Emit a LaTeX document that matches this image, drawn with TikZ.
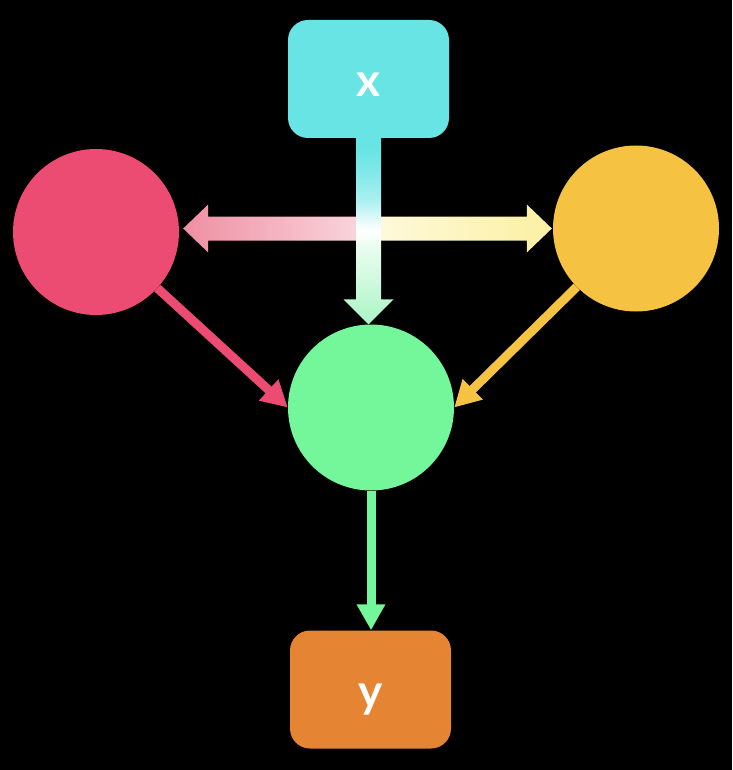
\documentclass[tikz,border=0pt]{standalone}
\usepackage{fontspec}
\setmainfont{Lato}
\usetikzlibrary{arrows.meta,calc}
\definecolor{cx}{HTML}{68E4E4}
\definecolor{cy}{HTML}{E58533}
\definecolor{cr}{HTML}{EC4B72}
\definecolor{cyl}{HTML}{F5C242}
\definecolor{cg}{HTML}{74F79A}
\definecolor{chp}{HTML}{EF8FA3}
\definecolor{chy}{HTML}{FCF0A2}
\definecolor{cvg}{HTML}{ABF5C4}
\pgfdeclareverticalshading{vgrad}{100bp}{color(0bp)=(cvg); color(25bp)=(cvg); color(46bp)=(cvg!25!white); color(50bp)=(white); color(52.5bp)=(cx!15!white); color(58bp)=(cx!55!white); color(66bp)=(cx!85!white); color(72bp)=(cx); color(100bp)=(cx)}
\begin{document}
\begin{tikzpicture}[x=1pt,y=-1pt,
  box/.style={rounded corners=20pt, minimum width=161pt, minimum height=118pt, inner sep=0pt,
    text=white, font=\fontsize{46}{46}\selectfont\bfseries, text height=36pt, text depth=0pt},
  circ/.style={circle, minimum size=166pt, inner sep=0pt},
  conn/.style={line width=9pt, -{Triangle[length=26pt,width=27pt]}}]
\fill[black] (0,0) rectangle (732,770);
\useasboundingbox (0,0) rectangle (732,770);
\node[box, fill=cx] (x) at (368.5,79) {x};
\node[box, fill=cy] (y) at (370.5,689.5) {y};
\node[circ, fill=cr] (r) at (96,232) {};
\node[circ, fill=cyl] (ye) at (636,228.5) {};
\node[circ, fill=cg] (g) at (371,407.5) {};
% thin connectors
\draw[conn, cr] (r) -- (g.west);
\draw[conn, cyl] (ye) -- (g.east);
\draw[conn, cg] (g.south) -- (g.south |- y.north);
% horizontal gradient double arrow (two halves)
\coordinate (hl) at ($(r.east |- ye.west)+(4,0)$);
\coordinate (hr) at ($(ye.west)+(-1,0)$);
\coordinate (hm) at (x.south |- hr);
\shade[left color=chp, right color=chp!35!white]
  (hl) -- ($(hl)+(25,-24)$) -- ($(hl)+(25,-12)$) -- ($(hm)+(0,-12)$)
  -- ($(hm)+(0,12)$) -- ($(hl)+(25,12)$) -- ($(hl)+(25,24)$) -- cycle;
\shade[left color=chy!35!white, right color=chy]
  ($(hm)+(0,-12)$) -- ($(hr)+(-25,-12)$) -- ($(hr)+(-25,-24)$)
  -- (hr) -- ($(hr)+(-25,24)$) -- ($(hr)+(-25,12)$) -- ($(hm)+(0,12)$) -- cycle;
% vertical gradient arrow
\coordinate (vt) at (x.south |- g.north);
\shade[shading=vgrad]
  ($(x.south)+(-12.5,-1)$) -- ($(vt)+(-12.5,-25)$) -- ($(vt)+(-25,-25)$) -- (vt)
  -- ($(vt)+(25,-25)$) -- ($(vt)+(12.5,-25)$) -- ($(x.south)+(12.5,-1)$) -- cycle;
\end{tikzpicture}
\end{document}
